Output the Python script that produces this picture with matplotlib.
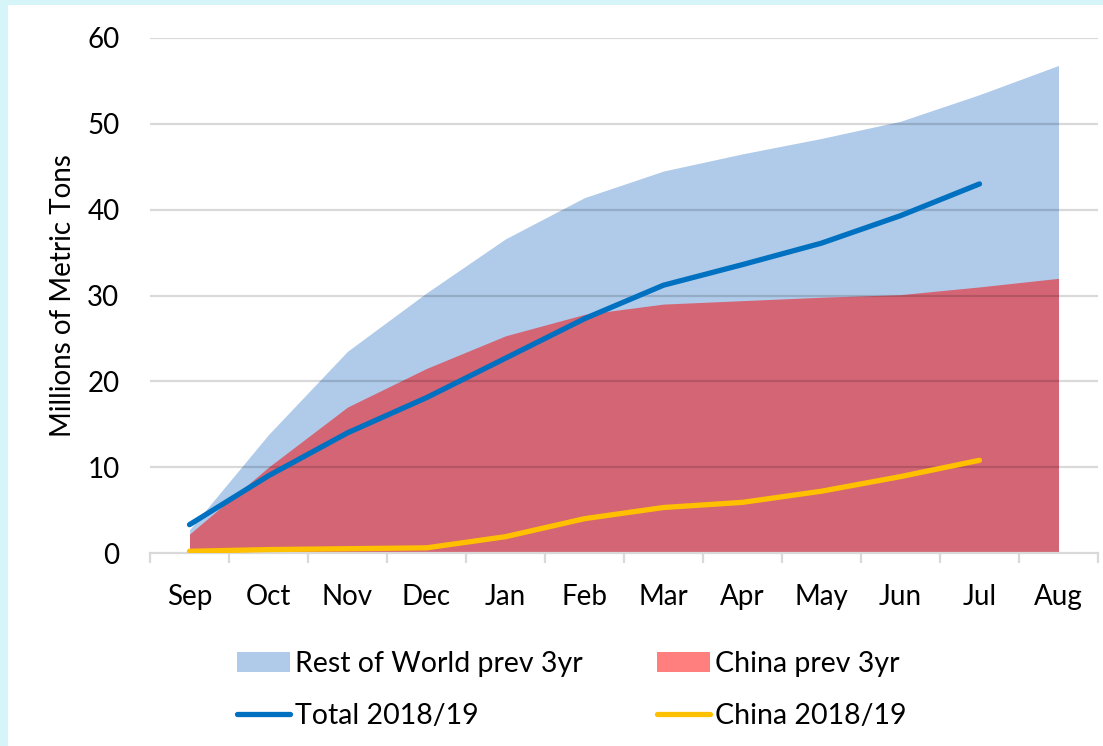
import matplotlib.pyplot as plt
from matplotlib.patches import Patch
from matplotlib.lines import Line2D

plt.rcParams['font.family'] = ['Lato', 'DejaVu Sans']

months = ['Sep', 'Oct', 'Nov', 'Dec', 'Jan', 'Feb', 'Mar', 'Apr', 'May', 'Jun', 'Jul', 'Aug']
china_prev = [2.2, 10.0, 17.0, 21.5, 25.3, 27.8, 29.0, 29.4, 29.8, 30.1, 31.0, 32.0]
row_prev = [0.5, 3.8, 6.5, 8.8, 11.3, 13.6, 15.5, 17.1, 18.5, 20.2, 22.4, 24.8]
total_1819 = [3.3, 9.0, 14.0, 18.1, 22.7, 27.3, 31.2, 33.6, 36.1, 39.3, 43.0]
china_1819 = [0.2, 0.4, 0.5, 0.6, 1.9, 4.0, 5.3, 5.9, 7.2, 8.9, 10.8]

c_row = '#AFCBE9'
c_china_area = '#D46575'
c_china_leg = '#FF7F7F'
c_total = '#0070C0'
c_china = '#FFC000'
fs = 20

fig = plt.figure(figsize=(11.03, 7.46), dpi=100)
fig.patch.set_facecolor('white')
# cyan frame strips on the left and top
fig.patches.append(plt.Rectangle((0, 0), 8 / 1103, 1, transform=fig.transFigure,
                                 facecolor='#D6F5F8', edgecolor='none', zorder=-10))
fig.patches.append(plt.Rectangle((0, 1 - 5 / 746), 1, 5 / 746, transform=fig.transFigure,
                                 facecolor='#D6F5F8', edgecolor='none', zorder=-10))

ax = fig.add_axes([150 / 1103, 1 - 553 / 746, (1098 - 150) / 1103, (553 - 38) / 746])
ax.set_facecolor('none')

x = list(range(len(months)))
top = [c + r for c, r in zip(china_prev, row_prev)]
ax.fill_between(x, 0, top, color=c_row, lw=0, zorder=1)
ax.fill_between(x, 0, china_prev, color=c_china_area, lw=0, zorder=2)

ax.set_ylim(0, 60)
ax.set_xlim(-0.5, 11.5)
ax.set_yticks(range(0, 61, 10))
for yv in range(10, 61, 10):
    ax.axhline(yv, color='black', alpha=0.15, lw=1.6, zorder=3)

ax.plot(x[:len(total_1819)], total_1819, color=c_total, lw=3.8, solid_capstyle='round', zorder=5)
ax.plot(x[:len(china_1819)], china_1819, color=c_china, lw=3.8, solid_capstyle='round', zorder=5)

for s in ['top', 'right', 'left']:
    ax.spines[s].set_visible(False)
ax.spines['bottom'].set_color('#D9D9D9')
ax.spines['bottom'].set_linewidth(1.6)
ax.spines['bottom'].set_zorder(4)

ax.set_xticks(x)
ax.set_xticklabels(months)
ax.set_xticks([i - 0.5 for i in range(len(months) + 1)], minor=True)
ax.tick_params(axis='x', which='major', length=0, pad=22, labelsize=fs)
ax.tick_params(axis='x', which='minor', length=7, width=1.6, color='#D9D9D9')
ax.tick_params(axis='y', length=0, pad=22, labelsize=fs)

ax.set_ylabel('Millions of Metric Tons', fontsize=fs, labelpad=8)

handles = [Patch(facecolor=c_row, edgecolor='none'),
           Line2D([], [], color=c_total, lw=3.8, solid_capstyle='round'),
           Patch(facecolor=c_china_leg, edgecolor='none'),
           Line2D([], [], color=c_china, lw=3.8, solid_capstyle='round')]
labels = ['Rest of World prev 3yr', 'Total 2018/19', 'China prev 3yr', 'China 2018/19']
fig.legend(handles, labels, ncol=2, loc='upper left', bbox_to_anchor=(237 / 1103, 1 - 651 / 746),
           frameon=False, fontsize=20.5, handlelength=1.85, handletextpad=0.2,
           columnspacing=2.6, labelspacing=0.92, borderaxespad=0, borderpad=0)

fig.savefig('out.png', dpi=100)
